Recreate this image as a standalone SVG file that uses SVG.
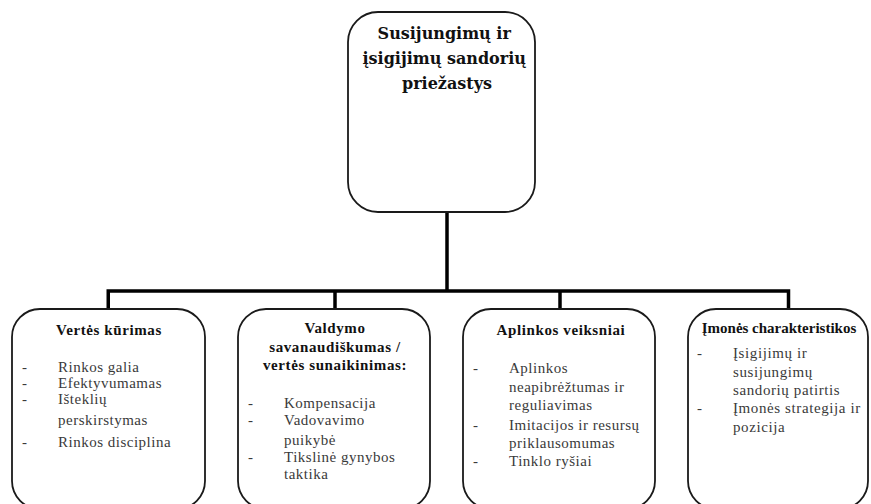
<svg xmlns="http://www.w3.org/2000/svg" width="871" height="504" viewBox="0 0 871 504">
  <style>
    .box { fill: #ffffff; stroke: #1a1a1a; stroke-width: 1.8; }
    .wire { fill: none; stroke: #000000; stroke-width: 3.5; }
    .title { font-family: "DejaVu Serif", "Liberation Serif", serif; font-weight: bold; font-size: 16px; fill: #111111; text-anchor: middle; }
    .head { font-family: "Liberation Serif", "Times New Roman", serif; font-weight: bold; font-size: 15px; letter-spacing: 0.6px; fill: #111111; text-anchor: middle; }
    .item { font-family: "Liberation Serif", "Times New Roman", serif; font-size: 15px; letter-spacing: 0.5px; fill: #3a3a3a; }
  </style>
  <rect width="871" height="504" fill="#ffffff"/>

  <!-- connectors -->
  <g id="connectors">
    <path class="wire" d="M447,212 V291"/>
    <path class="wire" d="M108.25,309 V291 H788.5 V309"/>
    <path class="wire" d="M335,291 V309"/>
    <path class="wire" d="M560,291 V309"/>
  </g>

  <!-- root -->
  <g id="root">
    <rect class="box" x="348" y="12" width="187" height="200" rx="30"/>
    <text class="title">
      <tspan x="447" y="39">Susijungimų ir</tspan>
      <tspan x="447" y="64">įsigijimų sandorių</tspan>
      <tspan x="447" y="89">priežastys</tspan>
    </text>
  </g>

  <!-- value creation -->
  <g id="verte">
    <rect class="box" x="12" y="309" width="193" height="200" rx="28"/>
    <text class="head" x="109" y="335">Vertės kūrimas</text>
    <g class="item">
      <text x="22" y="372">-</text><text x="58" y="372">Rinkos galia</text>
      <text x="22" y="388">-</text><text x="58" y="388">Efektyvumamas</text>
      <text x="22" y="404">-</text><text x="58" y="404">Išteklių</text>
      <text x="58" y="425">perskirstymas</text>
      <text x="22" y="447">-</text><text x="58" y="447">Rinkos disciplina</text>
    </g>
  </g>

  <!-- management self-interest -->
  <g id="valdymo">
    <rect class="box" x="238" y="309" width="192" height="200" rx="28"/>
    <text class="head" x="335" y="333">Valdymo</text>
    <text class="head" x="335" y="352">savanaudiškumas /</text>
    <text class="head" x="335" y="370">vertės sunaikinimas:</text>
    <g class="item">
      <text x="248" y="408">-</text><text x="284" y="408">Kompensacija</text>
      <text x="248" y="425">-</text><text x="284" y="425">Vadovavimo</text>
      <text x="284" y="445">puikybė</text>
      <text x="248" y="462">-</text><text x="284" y="462">Tikslinė gynybos</text>
      <text x="284" y="479">taktika</text>
    </g>
  </g>

  <!-- environment -->
  <g id="aplinkos">
    <rect class="box" x="463" y="309" width="192" height="200" rx="28"/>
    <text class="head" x="561" y="335">Aplinkos veiksniai</text>
    <g class="item">
      <text x="473" y="373">-</text><text x="509" y="373">Aplinkos</text>
      <text x="509" y="392">neapibrėžtumas ir</text>
      <text x="509" y="410">reguliavimas</text>
      <text x="473" y="430">-</text><text x="509" y="430">Imitacijos ir resursų</text>
      <text x="509" y="448">priklausomumas</text>
      <text x="473" y="466">-</text><text x="509" y="466">Tinklo ryšiai</text>
    </g>
  </g>

  <!-- company characteristics -->
  <g id="imones">
    <rect class="box" x="688" y="309" width="180" height="200" rx="28"/>
    <text class="head" x="779" y="333" style="letter-spacing:0">Įmonės charakteristikos</text>
    <g class="item" style="letter-spacing:0.6px">
      <text x="697" y="358">-</text><text x="733" y="358">Įsigijimų ir</text>
      <text x="733" y="377">susijungimų</text>
      <text x="733" y="395">sandorių patirtis</text>
      <text x="697" y="413">-</text><text x="733" y="413">Įmonės strategija ir</text>
      <text x="733" y="432">pozicija</text>
    </g>
  </g>
</svg>
